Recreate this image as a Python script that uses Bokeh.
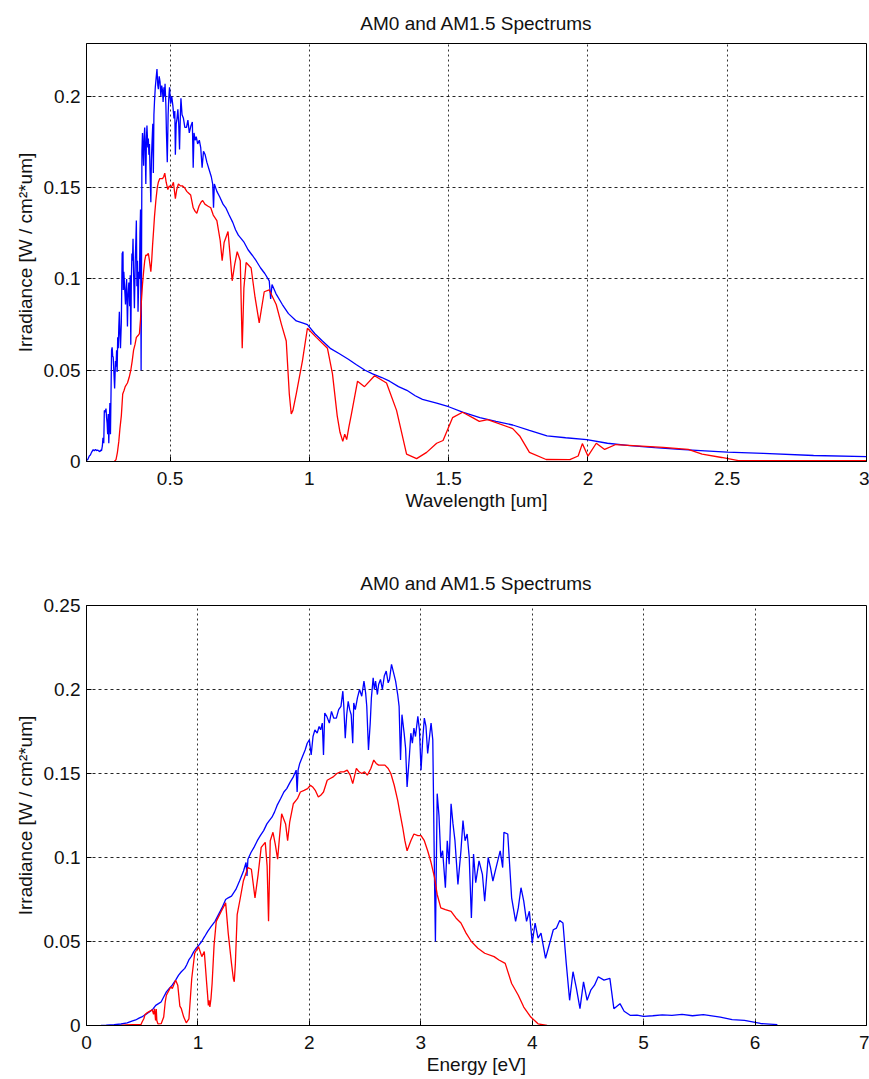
from bokeh.plotting import figure
from bokeh.layouts import column
from bokeh.models import FixedTicker, PrintfTickFormatter, Range1d
from bokeh.embed import file_html
from bokeh.resources import INLINE

# ---- data -------------------------------------------------------------
# Extraterrestrial (AM0) spectrum: wavelength [um] and irradiance [W / cm^2*um]
am0_wavelength = [
    0.200, 0.205, 0.210, 0.214, 0.218, 0.224, 0.228, 0.232, 0.236, 0.240,
    0.244, 0.248, 0.251, 0.254, 0.257, 0.259, 0.262, 0.264, 0.267, 0.270,
    0.272, 0.274, 0.276, 0.278, 0.280, 0.282, 0.284, 0.286, 0.288, 0.290,
    0.292, 0.294, 0.296, 0.298, 0.301, 0.304, 0.306, 0.308, 0.310, 0.312,
    0.314, 0.316, 0.318, 0.320, 0.322, 0.325, 0.328, 0.331, 0.332, 0.334,
    0.336, 0.338, 0.340, 0.342, 0.344, 0.347, 0.349, 0.352, 0.355, 0.357,
    0.359, 0.361, 0.363, 0.365, 0.367, 0.369, 0.372, 0.375, 0.377, 0.379,
    0.381, 0.383, 0.385, 0.388, 0.390, 0.392, 0.394, 0.396, 0.397, 0.399,
    0.401, 0.403, 0.405, 0.407, 0.409, 0.411, 0.413, 0.415, 0.417, 0.420,
    0.422, 0.424, 0.426, 0.428, 0.431, 0.433, 0.435, 0.438, 0.440, 0.442,
    0.444, 0.447, 0.450, 0.453, 0.456, 0.458, 0.461, 0.464, 0.467, 0.470,
    0.473, 0.475, 0.478, 0.480, 0.482, 0.485, 0.487, 0.490, 0.493, 0.495,
    0.498, 0.502, 0.506, 0.510, 0.514, 0.517, 0.519, 0.522, 0.525, 0.528,
    0.531, 0.534, 0.537, 0.539, 0.543, 0.548, 0.553, 0.559, 0.564, 0.569,
    0.575, 0.580, 0.583, 0.586, 0.590, 0.594, 0.599, 0.605, 0.610, 0.615,
    0.620, 0.626, 0.632, 0.640, 0.648, 0.653, 0.656, 0.659, 0.668, 0.678,
    0.690, 0.700, 0.712, 0.725, 0.735, 0.745, 0.756, 0.766, 0.780, 0.795,
    0.809, 0.825, 0.840, 0.856, 0.861, 0.866, 0.880, 0.903, 0.925, 0.953,
    0.975, 0.993, 1.020, 1.047, 1.075, 1.108, 1.140, 1.169, 1.200, 1.227,
    1.260, 1.288, 1.320, 1.350, 1.380, 1.406, 1.457, 1.500, 1.550, 1.612,
    1.670, 1.730, 1.790, 1.853, 1.920, 1.996, 2.070, 2.150, 2.240, 2.330,
    2.420, 2.500, 2.630, 2.810, 3.000, 3.400, 4.000, 5.000, 7.000, 9.500,
]
am0_irradiance = [
    0.0005, 0.0012, 0.0030, 0.0035, 0.0050, 0.0065, 0.0058, 0.0066, 0.0060, 0.0063,
    0.0058, 0.0054, 0.0062, 0.0060, 0.0085, 0.0130, 0.0100, 0.0280, 0.0270, 0.0290,
    0.0240, 0.0210, 0.0150, 0.0260, 0.0100, 0.0220, 0.0320, 0.0150, 0.0370, 0.0610,
    0.0625, 0.0580, 0.0570, 0.0500, 0.0400, 0.0550, 0.0520, 0.0610, 0.0490, 0.0680,
    0.0620, 0.0740, 0.0820, 0.0700, 0.0620, 0.0760, 0.1140, 0.1150, 0.0940, 0.1040,
    0.0980, 0.0920, 0.0860, 0.0940, 0.1000, 0.0740, 0.0900, 0.0980, 0.0850, 0.1020,
    0.0640, 0.1000, 0.1140, 0.1100, 0.1220, 0.1040, 0.0840, 0.1100, 0.1200, 0.1320,
    0.0960, 0.1100, 0.0820, 0.1040, 0.1000, 0.1250, 0.1380, 0.0500, 0.0860, 0.1700,
    0.1800, 0.1710, 0.1620, 0.1780, 0.1830, 0.1700, 0.1520, 0.1760, 0.1840, 0.1720,
    0.1770, 0.1680, 0.1740, 0.1600, 0.1420, 0.1650, 0.1740, 0.1850, 0.1580, 0.1900,
    0.1970, 0.2050, 0.2100, 0.2150, 0.2060, 0.2040, 0.2110, 0.2080, 0.2000, 0.2060,
    0.2030, 0.1970, 0.2050, 0.2000, 0.2070, 0.1950, 0.1800, 0.1640, 0.1900, 0.1980,
    0.2050, 0.1960, 0.2000, 0.1950, 0.1880, 0.1920, 0.1680, 0.1850, 0.1880, 0.1930,
    0.1850, 0.1710, 0.1900, 0.1990, 0.1900, 0.1880, 0.1830, 0.1830, 0.1870, 0.1800,
    0.1840, 0.1860, 0.1610, 0.1800, 0.1760, 0.1780, 0.1740, 0.1760, 0.1720, 0.1610,
    0.1700, 0.1680, 0.1640, 0.1600, 0.1560, 0.1520, 0.1390, 0.1520, 0.1480, 0.1450,
    0.1410, 0.1390, 0.1350, 0.1310, 0.1270, 0.1240, 0.1220, 0.1200, 0.1160, 0.1130,
    0.1100, 0.1060, 0.1030, 0.0990, 0.0890, 0.0970, 0.0920, 0.0860, 0.0810, 0.0770,
    0.0760, 0.0750, 0.0700, 0.0660, 0.0620, 0.0590, 0.0560, 0.0530, 0.0500, 0.0480,
    0.0460, 0.0440, 0.0410, 0.0390, 0.0360, 0.0340, 0.0320, 0.0300, 0.0270, 0.0240,
    0.0220, 0.0200, 0.0170, 0.0140, 0.0130, 0.0120, 0.0100, 0.0087, 0.0076, 0.0066,
    0.0058, 0.0051, 0.0044, 0.0033, 0.0027, 0.0016, 0.0009, 0.0005, 0.0002, 0.0001,
]

# Terrestrial (AM1.5) spectrum
am15_wavelength = [
    0.300, 0.306, 0.311, 0.316, 0.320, 0.325, 0.330, 0.335, 0.339, 0.347,
    0.353, 0.359, 0.364, 0.369, 0.374, 0.379, 0.385, 0.390, 0.394, 0.397,
    0.401, 0.405, 0.409, 0.413, 0.417, 0.422, 0.426, 0.431, 0.434, 0.437,
    0.441, 0.444, 0.449, 0.454, 0.458, 0.463, 0.468, 0.473, 0.477, 0.481,
    0.486, 0.492, 0.497, 0.502, 0.507, 0.512, 0.519, 0.524, 0.530, 0.537,
    0.544, 0.552, 0.560, 0.567, 0.574, 0.583, 0.590, 0.596, 0.604, 0.611,
    0.617, 0.625, 0.635, 0.646, 0.655, 0.668, 0.680, 0.687, 0.694, 0.708,
    0.716, 0.723, 0.732, 0.741, 0.752, 0.759, 0.765, 0.773, 0.791, 0.805,
    0.820, 0.838, 0.856, 0.881, 0.900, 0.917, 0.928, 0.935, 0.941, 0.953,
    0.975, 0.993, 1.025, 1.065, 1.083, 1.100, 1.110, 1.120, 1.127, 1.134,
    1.142, 1.151, 1.173, 1.198, 1.234, 1.277, 1.313, 1.349, 1.385, 1.421,
    1.457, 1.480, 1.514, 1.550, 1.586, 1.610, 1.640, 1.730, 1.755, 1.790,
    1.850, 1.935, 1.965, 1.980, 2.000, 2.030, 2.060, 2.100, 2.270, 2.360,
    2.410, 2.480, 2.540, 3.000, 3.500, 4.000,
]
am15_irradiance = [
    0.0000, 0.0010, 0.0050, 0.0110, 0.0180, 0.0250, 0.0370, 0.0390, 0.0410, 0.0430,
    0.0460, 0.0500, 0.0550, 0.0610, 0.0640, 0.0680, 0.0690, 0.0700, 0.0780, 0.0880,
    0.0970, 0.1040, 0.1100, 0.1130, 0.1130, 0.1140, 0.1100, 0.1040, 0.1100, 0.1180,
    0.1270, 0.1340, 0.1430, 0.1500, 0.1530, 0.1550, 0.1550, 0.1550, 0.1560, 0.1580,
    0.1530, 0.1490, 0.1510, 0.1500, 0.1510, 0.1530, 0.1440, 0.1490, 0.1520, 0.1510,
    0.1510, 0.1500, 0.1480, 0.1470, 0.1460, 0.1390, 0.1370, 0.1360, 0.1400, 0.1420,
    0.1430, 0.1410, 0.1400, 0.1390, 0.1350, 0.1320, 0.1210, 0.1100, 0.1200, 0.1260,
    0.1120, 0.0990, 0.1080, 0.1150, 0.1100, 0.0620, 0.0950, 0.1090, 0.1060, 0.0900,
    0.0760, 0.0930, 0.0940, 0.0860, 0.0750, 0.0660, 0.0370, 0.0260, 0.0280, 0.0370,
    0.0550, 0.0730, 0.0680, 0.0620, 0.0480, 0.0250, 0.0160, 0.0110, 0.0150, 0.0120,
    0.0190, 0.0260, 0.0440, 0.0410, 0.0470, 0.0430, 0.0280, 0.0040, 0.0016, 0.0050,
    0.0100, 0.0115, 0.0240, 0.0270, 0.0240, 0.0220, 0.0230, 0.0180, 0.0140, 0.0050,
    0.0011, 0.0010, 0.0030, 0.0098, 0.0030, 0.0100, 0.0066, 0.0093, 0.0077, 0.0066,
    0.0040, 0.0022, 0.0005, 0.0005, 0.0003, 0.0001,
]

# photon energy [eV] = 1.24 / wavelength [um]
HC_EV_UM = 1.24
am0_energy = [HC_EV_UM / w for w in am0_wavelength]
am15_energy = [HC_EV_UM / w for w in am15_wavelength]

title_text = "AM0 and AM1.5 Spectrums"
y_label = "Irradiance [W / cm\u00b2*um]"

wl_ticks = [0.5, 1, 1.5, 2, 2.5, 3]
wl_y_ticks = [0, 0.05, 0.1, 0.15, 0.2]
en_ticks = [0, 1, 2, 3, 4, 5, 6, 7]
en_y_ticks = [0, 0.05, 0.1, 0.15, 0.2, 0.25]

FONT = "Liberation Sans"
FS = "19px"
INK = "#111111"


def styled_panel(x_range, y_range, x_ticks, y_ticks, x_label, height,
                 border_top, border_bottom, title_gap):
    p = figure(width=869, height=height, output_backend="svg",
               toolbar_location=None, x_range=Range1d(*x_range),
               y_range=Range1d(*y_range), title=title_text,
               min_border_left=86, min_border_right=3,
               min_border_top=border_top, min_border_bottom=border_bottom,
               background_fill_color="white", border_fill_color="white")
    p.title.align = "center"
    p.title.text_font = FONT
    p.title.text_font_size = FS
    p.title.text_font_style = "normal"
    p.title.text_color = INK
    p.title.standoff = title_gap

    p.outline_line_color = "black"
    p.outline_line_alpha = 1.0

    for ax in (p.xaxis[0], p.yaxis[0]):
        ax.major_label_text_font = FONT
        ax.major_label_text_font_size = FS
        ax.major_label_text_color = INK
        ax.axis_label_text_font = FONT
        ax.axis_label_text_font_size = FS
        ax.axis_label_text_font_style = "normal"
        ax.axis_label_text_color = INK
        ax.major_tick_in = 5
        ax.major_tick_out = 0
        ax.minor_tick_in = 0
        ax.minor_tick_out = 0
        ax.axis_line_color = "black"
        ax.major_tick_line_color = "black"
        ax.formatter = PrintfTickFormatter(format="%g")

    p.xaxis[0].ticker = FixedTicker(ticks=x_ticks)
    p.yaxis[0].ticker = FixedTicker(ticks=y_ticks)
    p.xaxis[0].axis_label = x_label
    p.yaxis[0].axis_label = y_label
    p.xaxis[0].major_label_standoff = 10
    p.xaxis[0].axis_label_standoff = 2
    p.yaxis[0].major_label_standoff = 6
    p.yaxis[0].axis_label_standoff = 5

    p.xgrid.ticker = FixedTicker(ticks=x_ticks)
    p.ygrid.ticker = FixedTicker(ticks=y_ticks)
    p.xgrid.grid_line_color = "black"
    p.xgrid.grid_line_dash = "2 3"
    p.xgrid.grid_line_alpha = 0.8
    p.ygrid.grid_line_color = "black"
    p.ygrid.grid_line_dash = "3 3"
    p.ygrid.grid_line_alpha = 0.85
    return p


top_panel = styled_panel((0.2, 3.0), (0.0, 0.229), wl_ticks, wl_y_ticks,
                         "Wavelength [um]", 540, 42, 79, 20)
top_panel.line(am0_wavelength, am0_irradiance, color="#0000ff", line_width=1.3)
top_panel.line(am15_wavelength, am15_irradiance, color="#ff0000", line_width=1.3)

bottom_panel = styled_panel((0.0, 7.0), (0.0, 0.25), en_ticks, en_y_ticks,
                            "Energy [eV]", 539, 65, 54, 24)
bottom_panel.line(am0_energy, am0_irradiance, color="#0000ff", line_width=1.3)
bottom_panel.line(am15_energy, am15_irradiance, color="#ff0000", line_width=1.3)

layout = column(top_panel, bottom_panel, spacing=0)

with open("out.html", "w") as f:
    f.write(file_html(layout, INLINE))
